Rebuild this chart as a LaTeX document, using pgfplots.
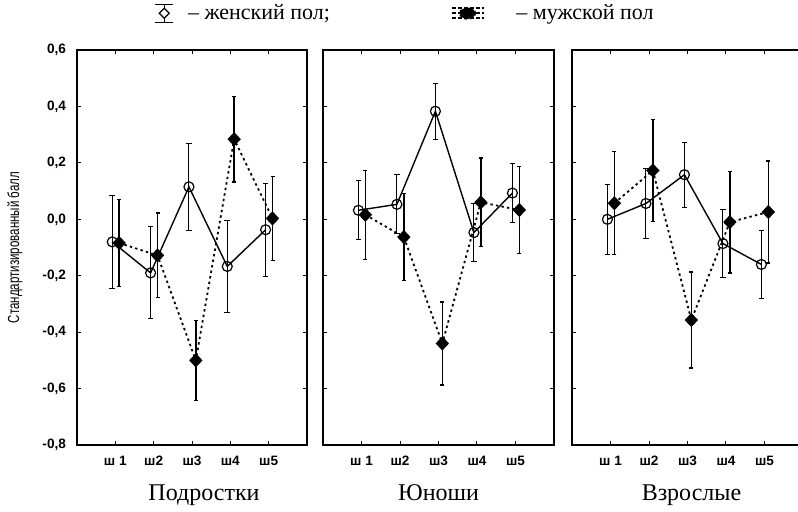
\documentclass[border=0pt]{standalone}
\usepackage{fontspec}
\setmainfont{Liberation Serif}
\setsansfont{Liberation Sans}
\usepackage{pgfplots}
\usepackage{pgfplotstable}
\pgfplotsset{compat=1.18}

% x  f (женский)  fe  m (мужской)  me
\pgfplotstableread{
x f fe m me
1 -0.080 0.165 -0.084 0.155
2 -0.190 0.163 -0.128 0.150
3 0.115 0.155 -0.500 0.142
4 -0.167 0.163 0.284 0.152
5 -0.037 0.165 0.003 0.149
}\teen
\pgfplotstableread{
x f fe m me
1 0.032 0.105 0.016 0.158
2 0.053 0.105 -0.063 0.155
3 0.383 0.100 -0.440 0.147
4 -0.047 0.103 0.060 0.157
5 0.093 0.105 0.033 0.155
}\youth
\pgfplotstableread{
x f fe m me
1 0.000 0.123 0.057 0.182
2 0.056 0.124 0.173 0.180
3 0.158 0.115 -0.357 0.170
4 -0.086 0.120 -0.010 0.180
5 -0.160 0.120 0.026 0.181
}\adult

\pgfplotsset{
  panel/.style={
    scale only axis, width=115pt, height=197.5pt,
    xmin=0, xmax=6, ymin=-0.8, ymax=0.6,
    xtick={1,2,3,4,5}, xticklabels={ш 1,ш2,ш3,ш4,ш5},
    ytick={-0.8,-0.6,-0.4,-0.2,0,0.2,0.4,0.6},
    tick align=inside, major tick length=2pt,
    tick style={black, line width=0.5pt},
    axis line style={black, line width=0.8pt},
    tick label style={font=\sffamily\bfseries\fontsize{6.8}{8}\selectfont},
    xticklabel style={yshift=-2pt},
    yticklabel style={xshift=-2pt, /pgf/number format/.cd, fixed, fixed zerofill, precision=1, use comma, assume math mode=true},
    every axis x label/.style={at={(axis description cs:0.5,0)}, anchor=base, yshift=-27.5pt,
      font=\rmfamily\fontsize{12}{14}\selectfont},
    legend style={draw=none, fill=none, font=\rmfamily\fontsize{11}{13}\selectfont, anchor=west},
    clip=false,
  },
  fem/.style={black, line width=0.7pt, mark=o, mark size=2.5pt,
    mark options={solid, fill=white, line width=0.6pt},
    error bars/y dir=both, error bars/y explicit,
    error bars/error bar style={line width=0.5pt, solid},
    error bars/error mark options={rotate=90, mark size=1.4pt, line width=0.5pt}},
  mal/.style={black, line width=0.9pt, dash pattern=on 1.2pt off 1.6pt, mark=diamond*, mark size=2.9pt,
    mark options={solid, fill=black, xscale=1.25},
    error bars/y dir=both, error bars/y explicit,
    error bars/error bar style={line width=0.8pt, solid},
    error bars/error mark options={rotate=90, mark size=1pt, line width=0.6pt}},
  femleg/.style={legend image code/.code={
    \draw[black, line width=0.6pt] (4.5pt,-4.5pt) -- (4.5pt,4.5pt);
    \draw[black, line width=0.6pt] (0pt,4.5pt) -- (9pt,4.5pt) (0pt,-4.5pt) -- (9pt,-4.5pt);
    \draw[black, fill=white, line width=0.6pt] (2pt,0pt) -- (4.5pt,2.5pt) -- (7pt,0pt) -- (4.5pt,-2.5pt) -- cycle;
    \path (14pt,0pt);}},
  malleg/.style={legend image code/.code={
    \draw[black, line width=0.9pt, dash pattern=on 2pt off 1pt] (0pt,2.5pt) -- (16pt,2.5pt) (0pt,0pt) -- (16pt,0pt) (0pt,-2.5pt) -- (16pt,-2.5pt);
    \fill[black] (8pt,0pt) ellipse (3.8pt and 2.8pt);
    \path (30pt,0pt);}},
}

\begin{document}
\begin{tikzpicture}
\begin{axis}[panel, at={(38.5pt,-222.5pt)}, anchor=south west,
    xlabel={Подростки}, xlabel style={xshift=6pt},
    ylabel={\scalebox{0.72}[1]{Стандартизированный балл}},
    every axis y label/.style={at={(axis description cs:-0.27,0.5)}, rotate=90, anchor=center,
      font=\sffamily\fontsize{8}{9}\selectfont},
    legend style={at={(axis description cs:0.31,1.093)}}]
  \addplot[fem, femleg] table[x expr=\thisrow{x}-0.08, y=f, y error=fe] {\teen};
  \addlegendentry{– женский пол;}
  \addplot[mal, forget plot] table[x expr=\thisrow{x}+0.1, y=m, y error=me] {\teen};
\end{axis}
\begin{axis}[panel, at={(161.5pt,-222.5pt)}, anchor=south west, width=115.5pt,
    yticklabels={}, xlabel={Юноши},
    legend style={at={(axis description cs:0.525,1.093)}}]
  \addplot[fem, forget plot] table[x expr=\thisrow{x}-0.08, y=f, y error=fe] {\youth};
  \addplot[mal, malleg] table[x expr=\thisrow{x}+0.1, y=m, y error=me] {\youth};
  \addlegendentry{– мужской пол}
\end{axis}
\begin{axis}[panel, at={(286pt,-222.5pt)}, anchor=south west, width=115.5pt,
    yticklabels={}, xlabel={Взрослые}, xlabel style={xshift=2pt}]
  \addplot[fem] table[x expr=\thisrow{x}-0.08, y=f, y error=fe] {\adult};
  \addplot[mal] table[x expr=\thisrow{x}+0.1, y=m, y error=me] {\adult};
\end{axis}
\pgfresetboundingbox
\path[use as bounding box] (0pt,0pt) rectangle (399pt,-255.5pt);
\end{tikzpicture}
\end{document}
